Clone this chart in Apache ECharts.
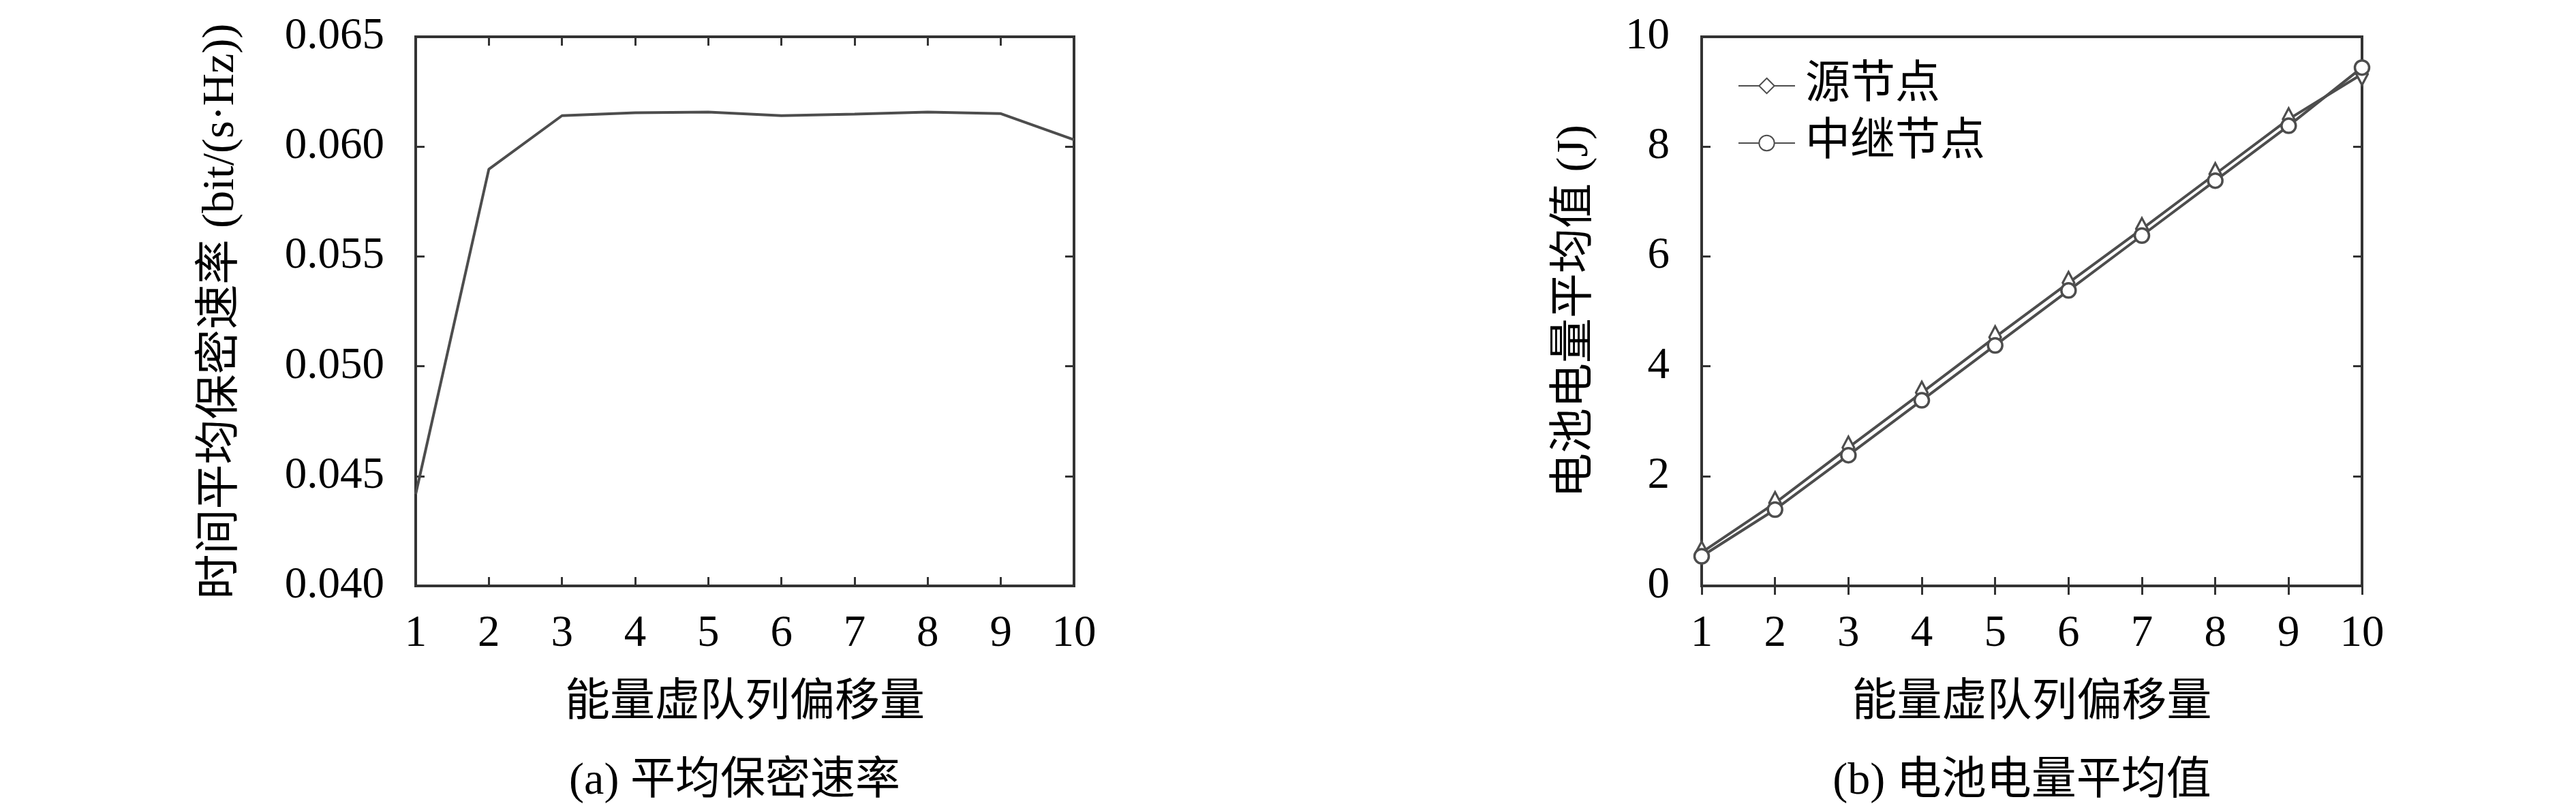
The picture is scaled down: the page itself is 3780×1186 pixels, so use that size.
<!DOCTYPE html>
<html lang="zh">
  <head>
    <meta charset="UTF-8" />
    <title>平均保密速率 / 电池电量平均值</title>
    <script src="https://cdn.jsdelivr.net/npm/echarts@6/dist/echarts.min.js"></script>
    <style>
      html, body { margin: 0; padding: 0; background: #fff; }
      #chart { width: 3780px; height: 1186px; }
    </style>
  </head>
  <body>
    <div id="chart"></div>
    <script>
      // 数据
      var offsets = [1, 2, 3, 4, 5, 6, 7, 8, 9, 10];
      var secrecyRate = [0.04418, 0.05897, 0.06141, 0.06154, 0.06157, 0.06141, 0.06148, 0.06157, 0.0615, 0.06031];
      var sourceBattery = [0.61, 1.51, 2.52, 3.52, 4.53, 5.52, 6.5, 7.5, 8.5, 9.32];
      var relayBattery = [0.54, 1.39, 2.38, 3.38, 4.38, 5.38, 6.38, 7.38, 8.38, 9.44];

      var seriesNames = ['源节点', '中继节点'];
      var xAxisName = '能量虚队列偏移量';
      var yNameA = '时间平均保密速率 (bit/(s·Hz))';
      var yNameB = '电池电量平均值 (J)';
      var captionA = '(a) 平均保密速率';
      var captionB = '(b) 电池电量平均值';

      var font = "'Liberation Serif', 'Noto Sans CJK SC', serif";
      var lineColor = '#4d4d4d';
      var frameColor = '#333';

      var toPairs = function (ys) {
        return offsets.map(function (x, i) {
          return [x, ys[i]];
        });
      };

      var chart = echarts.init(document.getElementById('chart'));

      // 刻度向内，四边都有
      var tickStyle = {
        show: true,
        inside: true,
        length: 13,
        lineStyle: { color: frameColor, width: 3 }
      };
      var labelStyle = { color: '#000', fontSize: 65, fontFamily: font };
      var nameStyle = { color: '#000', fontSize: 66, fontFamily: font };

      var xAxisMain = function (gridIndex) {
        return {
          type: 'value',
          gridIndex: gridIndex,
          min: 1,
          max: 10,
          interval: 1,
          name: xAxisName,
          nameLocation: 'middle',
          nameGap: 140,
          nameTextStyle: nameStyle,
          axisLine: { show: false },
          axisTick: tickStyle,
          axisLabel: Object.assign({ margin: 38 }, labelStyle),
          splitLine: { show: false }
        };
      };
      var xAxisTop = function (gridIndex) {
        return {
          type: 'value',
          gridIndex: gridIndex,
          position: 'top',
          min: 1,
          max: 10,
          interval: 1,
          axisLine: { show: false },
          axisTick: tickStyle,
          axisLabel: { show: false },
          splitLine: { show: false }
        };
      };

      var option = {
        animation: false,
        backgroundColor: '#fff',
        grid: [
          { left: 610, top: 54, width: 966, height: 806, show: true, borderColor: frameColor, borderWidth: 4 },
          { left: 2497, top: 54, width: 969, height: 806, show: true, borderColor: frameColor, borderWidth: 4 }
        ],
        xAxis: [xAxisMain(0), xAxisTop(0), xAxisMain(1), xAxisTop(1)],
        yAxis: [
          {
            type: 'value',
            gridIndex: 0,
            min: 0.04,
            max: 0.065,
            interval: 0.005,
            name: yNameA,
            nameLocation: 'middle',
            nameGap: 252,
            nameTextStyle: nameStyle,
            axisLine: { show: false },
            axisTick: tickStyle,
            axisLabel: Object.assign(
              {
                margin: 46,
                formatter: function (v) {
                  return v.toFixed(3);
                }
              },
              labelStyle
            ),
            splitLine: { show: false }
          },
          {
            type: 'value',
            gridIndex: 0,
            position: 'right',
            min: 0.04,
            max: 0.065,
            interval: 0.005,
            axisLine: { show: false },
            axisTick: tickStyle,
            axisLabel: { show: false },
            splitLine: { show: false }
          },
          {
            type: 'value',
            gridIndex: 1,
            min: 0,
            max: 10,
            interval: 2,
            name: yNameB,
            nameLocation: 'middle',
            nameGap: 152,
            nameTextStyle: nameStyle,
            axisLine: { show: false },
            axisTick: tickStyle,
            axisLabel: Object.assign({ margin: 47 }, labelStyle),
            splitLine: { show: false }
          },
          {
            type: 'value',
            gridIndex: 1,
            position: 'right',
            min: 0,
            max: 10,
            interval: 2,
            axisLine: { show: false },
            axisTick: tickStyle,
            axisLabel: { show: false },
            splitLine: { show: false }
          }
        ],
        legend: {
          orient: 'vertical',
          left: 2545,
          top: 88,
          itemWidth: 83,
          itemHeight: 28,
          itemGap: 18,
          data: seriesNames,
          selectedMode: false,
          textStyle: { color: '#000', fontSize: 66, fontFamily: font, padding: [0, 0, 0, 10] }
        },
        graphic: [
          {
            type: 'text',
            x: 1078,
            y: 1148,
            style: { text: captionA, fill: '#000', font: '66px ' + font, textAlign: 'center', textVerticalAlign: 'middle' }
          },
          {
            type: 'text',
            x: 2967,
            y: 1148,
            style: { text: captionB, fill: '#000', font: '66px ' + font, textAlign: 'center', textVerticalAlign: 'middle' }
          }
        ],
        series: [
          {
            name: '保密速率',
            type: 'line',
            xAxisIndex: 0,
            yAxisIndex: 0,
            showSymbol: false,
            data: toPairs(secrecyRate),
            lineStyle: { color: lineColor, width: 4 },
            itemStyle: { color: lineColor }
          },
          {
            name: seriesNames[0],
            type: 'line',
            xAxisIndex: 2,
            yAxisIndex: 2,
            symbol: 'diamond',
            symbolSize: [17, 32],
            data: toPairs(sourceBattery),
            lineStyle: { color: lineColor, width: 4 },
            itemStyle: { color: '#fff', borderColor: lineColor, borderWidth: 3.5 }
          },
          {
            name: seriesNames[1],
            type: 'line',
            xAxisIndex: 2,
            yAxisIndex: 2,
            symbol: 'circle',
            symbolSize: 21,
            data: toPairs(relayBattery),
            lineStyle: { color: lineColor, width: 4 },
            itemStyle: { color: '#fff', borderColor: lineColor, borderWidth: 3.5 }
          }
        ]
      };

      chart.setOption(option);
    </script>
  </body>
</html>
